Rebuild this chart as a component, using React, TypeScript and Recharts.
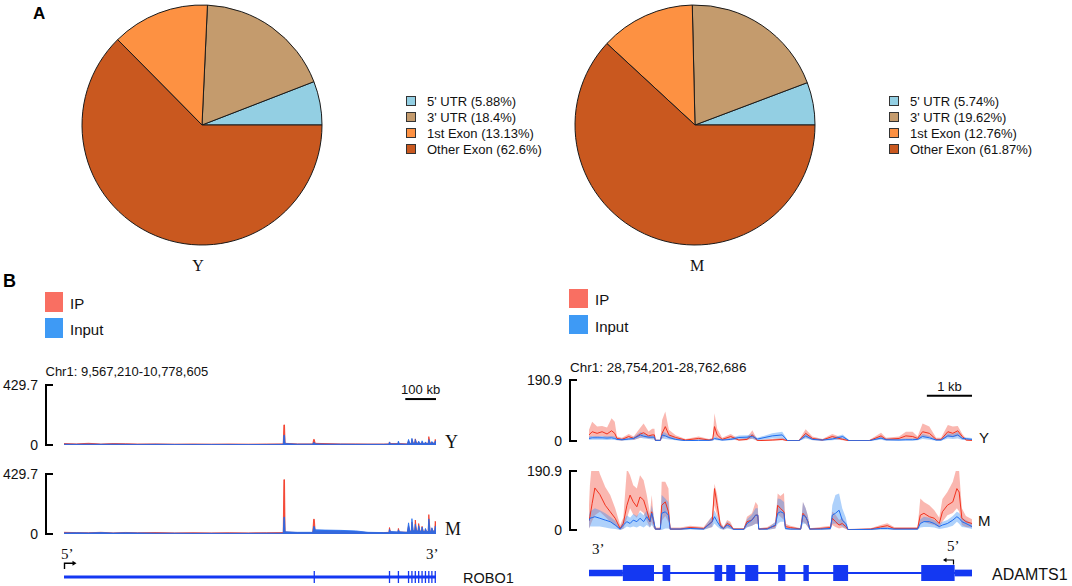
import React from "react";
import {
  Area,
  Cell,
  ComposedChart,
  Legend,
  Line,
  Pie,
  PieChart,
  ReferenceArea,
  ReferenceLine,
  XAxis,
  YAxis,
} from "recharts";

const SANS = "'Liberation Sans', Arial, sans-serif";
const SERIF = "'Liberation Serif', 'Times New Roman', serif";

// ---- Panel A: peak distribution over transcript regions ----
const regions = ["5' UTR", "3' UTR", "1st Exon", "Other Exon"];
const youngShare = [5.88, 18.4, 13.13, 62.6];
const middleShare = [5.74, 19.62, 12.76, 61.87];
const regionColors = ["#93cfe3", "#c49b6d", "#fd9142", "#c9581f"];

// ---- Panel B left: ROBO1 locus (kb from 9,567,210) ----
const roboSpanKb = 1211.4;
const roboKb = [
  0, 40, 80, 120, 160, 200, 240, 300, 360, 420,
  480, 540, 600, 660, 714, 716, 718, 720, 760, 810,
  813, 815, 818, 850, 900, 950, 990, 1040, 1058, 1060,
  1063, 1087, 1089, 1092, 1118, 1122, 1126, 1131, 1133, 1137,
  1142, 1144, 1148, 1153, 1155, 1159, 1164, 1166, 1170, 1175,
  1177, 1181, 1186, 1188, 1192, 1196, 1198, 1202, 1207, 1209,
  1211.4,
];
const roboYIp = [
  10, 8, 12, 7, 10, 9, 7, 8, 6, 7,
  6, 7, 6, 7, 8, 144, 144, 12, 8, 8,
  40, 40, 12, 10, 8, 8, 7, 7, 8, 22,
  10, 10, 20, 10, 8, 30, 12, 12, 40, 14,
  14, 44, 14, 14, 20, 12, 12, 22, 12, 12,
  18, 12, 12, 60, 14, 14, 20, 14, 14, 40,
  30,
];
const roboYInput = [
  6, 5, 6, 5, 6, 5, 4, 5, 4, 4,
  4, 4, 3, 4, 5, 70, 70, 10, 6, 6,
  18, 18, 8, 6, 6, 5, 5, 5, 6, 22,
  8, 8, 28, 8, 6, 40, 10, 10, 48, 12,
  12, 40, 12, 12, 28, 10, 10, 30, 10, 10,
  22, 10, 10, 40, 12, 12, 25, 12, 12, 30,
  20,
];
const roboMIp = [
  12, 10, 9, 12, 8, 11, 9, 10, 8, 9,
  8, 9, 8, 9, 10, 389, 389, 14, 10, 10,
  106, 106, 20, 22, 20, 16, 10, 10, 12, 46,
  14, 12, 40, 14, 12, 60, 20, 20, 85, 22,
  22, 100, 22, 22, 75, 20, 20, 55, 18, 18,
  35, 16, 16, 139, 20, 20, 40, 20, 20, 91,
  60,
];
const roboMInput = [
  8, 9, 8, 10, 7, 9, 8, 6, 6, 5,
  5, 5, 5, 6, 6, 120, 120, 16, 12, 12,
  53, 53, 30, 28, 26, 22, 12, 10, 10, 33,
  18, 15, 30, 16, 12, 80, 20, 20, 110, 24,
  24, 70, 22, 22, 60, 20, 20, 50, 18, 18,
  40, 18, 18, 108, 20, 20, 45, 20, 20, 55,
  40,
];
const roboExonKb = [815, 1060, 1089, 1122, 1133, 1144, 1155, 1166, 1177, 1188, 1198, 1209];

// ---- Panel B right: ADAMTS1 locus (kb from 28,754,201) ----
const adamSpanKb = 8.485;
const adamYKb = [
  0, 0.07, 0.18, 0.29, 0.4, 0.5, 0.57, 0.62, 0.73, 0.88,
  0.99, 1.14, 1.21, 1.32, 1.4, 1.45, 1.47, 1.58, 1.62, 1.69,
  1.77, 1.92, 2.14, 2.43, 2.66, 2.74, 2.78, 2.84, 2.95, 3.14,
  3.32, 3.5, 3.62, 3.73, 4.06, 4.28, 4.4, 4.65, 4.8, 4.95,
  5.17, 5.39, 5.62, 5.76, 6.21, 6.47, 6.58, 6.87, 7.02, 7.17,
  7.28, 7.39, 7.54, 7.69, 7.8, 7.95, 8.06, 8.17, 8.27, 8.36,
  8.485,
];
const adamYIp = [
  19, 29, 24, 29, 22, 32, 24, 8, 5, 14,
  8, 22, 26, 16, 19, 19, 2, 2, 24, 45,
  19, 11, 3, 8, 3, 5, 45, 19, 5, 14,
  3, 5, 19, 1, 3, 5, 1, 1, 24, 8,
  3, 14, 5, 1, 1, 16, 5, 8, 16, 14,
  8, 29, 24, 5, 5, 29, 24, 32, 14, 3,
  2,
];
const adamYIpLo = [
  8, 14, 12, 15, 10, 12, 10, 3, 1, 6,
  3, 10, 12, 8, 8, 8, 0, 0, 8, 15,
  8, 4, 1, 3, 1, 2, 15, 6, 2, 6,
  1, 2, 8, 0, 1, 2, 0, 0, 12, 3,
  1, 6, 2, 0, 0, 8, 2, 3, 6, 6,
  3, 14, 12, 2, 2, 14, 12, 16, 6, 1,
  0,
];
const adamYIpHi = [
  35, 60, 45, 47, 42, 71, 60, 14, 10, 22,
  14, 42, 55, 30, 38, 38, 4, 4, 66, 92,
  35, 18, 6, 14, 6, 10, 87, 38, 10, 22,
  6, 10, 34, 3, 6, 10, 3, 3, 37, 14,
  6, 22, 10, 3, 3, 26, 10, 14, 29, 29,
  14, 55, 45, 10, 10, 50, 45, 47, 22, 6,
  4,
];
const adamYInput = [
  8, 10, 10, 10, 9, 10, 8, 5, 4, 6,
  8, 19, 15, 12, 12, 12, 2, 2, 19, 16,
  11, 5, 1, 2, 2, 4, 8, 6, 3, 5,
  11, 12, 14, 6, 16, 19, 1, 1, 16, 5,
  3, 6, 14, 1, 1, 9, 4, 3, 4, 4,
  5, 14, 10, 3, 3, 16, 14, 19, 8, 7,
  5,
];
const adamYInputLo = [
  3, 4, 4, 4, 3, 4, 3, 2, 1, 2,
  3, 10, 8, 6, 5, 5, 0, 0, 8, 6,
  5, 2, 0, 0, 0, 1, 3, 2, 1, 2,
  5, 6, 6, 2, 8, 8, 0, 0, 8, 2,
  1, 2, 6, 0, 0, 4, 1, 1, 1, 1,
  2, 6, 4, 1, 1, 8, 6, 8, 3, 3,
  2,
];
const adamYInputHi = [
  14, 16, 16, 16, 15, 16, 14, 9, 8, 10,
  13, 28, 24, 18, 18, 18, 4, 4, 30, 26,
  18, 9, 3, 4, 4, 7, 14, 10, 6, 9,
  17, 18, 22, 10, 24, 29, 3, 3, 24, 9,
  6, 10, 20, 3, 3, 14, 8, 6, 8, 8,
  9, 22, 16, 6, 6, 24, 22, 28, 13, 11,
  9,
];

const adamMKb = [
  0, 0.02, 0.07, 0.13, 0.24, 0.36, 0.47, 0.58, 0.69, 0.76,
  0.84, 0.91, 0.98, 1.06, 1.13, 1.21, 1.28, 1.35, 1.39, 1.43,
  1.47, 1.58, 1.61, 1.69, 1.76, 1.8, 2.02, 2.24, 2.54, 2.73,
  2.78, 2.84, 2.91, 2.98, 3.06, 3.13, 3.2, 3.43, 3.5, 3.61,
  3.69, 3.74, 3.76, 3.95, 4.13, 4.18, 4.24, 4.32, 4.35, 4.46,
  4.69, 4.74, 4.8, 4.85, 4.89, 5.13, 5.35, 5.39, 5.46, 5.54,
  5.61, 5.69, 5.74, 6.24, 6.46, 6.61, 6.76, 7.28, 7.34, 7.42,
  7.54, 7.65, 7.76, 7.83, 7.94, 8.06, 8.15, 8.2, 8.26, 8.35,
  8.485,
];
const adamMIp = [
  30, 43, 86, 136, 115, 80, 59, 38, 5, 21,
  80, 113, 91, 75, 107, 97, 64, 27, 59, 27,
  3, 3, 80, 91, 59, 3, 3, 8, 5, 27,
  134, 80, 16, 5, 21, 16, 3, 3, 27, 32,
  48, 48, 3, 5, 14, 80, 70, 59, 11, 8,
  3, 54, 43, 27, 3, 5, 8, 38, 27, 16,
  21, 11, 1, 3, 10, 14, 5, 5, 48, 54,
  43, 38, 21, 59, 80, 91, 134, 123, 38, 27,
  21,
];
const adamMIpLo = [
  5, 11, 30, 48, 59, 43, 27, 14, 0, 5,
  38, 70, 50, 40, 64, 55, 30, 8, 27, 8,
  0, 0, 30, 45, 27, 0, 0, 3, 2, 10,
  80, 45, 5, 1, 8, 5, 0, 0, 10, 14,
  20, 20, 0, 1, 5, 50, 43, 32, 3, 2,
  0, 27, 20, 10, 0, 1, 2, 16, 10, 5,
  8, 3, 0, 0, 3, 5, 1, 1, 21, 27,
  20, 16, 8, 27, 48, 55, 70, 60, 16, 10,
  8,
];
const adamMIpHi = [
  80, 145, 225, 231, 182, 139, 113, 70, 16, 40,
  198, 177, 145, 134, 177, 161, 113, 54, 113, 45,
  8, 8, 156, 156, 134, 8, 8, 14, 10, 45,
  150, 113, 27, 10, 32, 27, 6, 6, 43, 54,
  91, 80, 6, 10, 24, 118, 110, 120, 20, 14,
  6, 91, 70, 45, 6, 10, 14, 60, 50, 32,
  40, 20, 3, 6, 16, 22, 10, 10, 102, 91,
  80, 64, 40, 100, 123, 156, 204, 190, 70, 45,
  35,
];
const adamMInput = [
  30, 38, 40, 43, 38, 32, 27, 16, 3, 16,
  27, 21, 32, 27, 38, 27, 43, 27, 54, 32,
  3, 3, 54, 59, 48, 3, 3, 5, 3, 27,
  43, 27, 11, 5, 16, 11, 2, 2, 21, 32,
  48, 48, 3, 3, 16, 54, 59, 54, 5, 3,
  3, 48, 43, 27, 3, 3, 5, 48, 54, 64,
  32, 21, 1, 2, 5, 5, 3, 3, 21, 27,
  27, 21, 11, 16, 21, 32, 43, 38, 27, 21,
  11,
];
const adamMInputLo = [
  5, 11, 11, 11, 11, 8, 5, 3, 0, 3,
  11, 8, 11, 8, 14, 8, 16, 8, 16, 8,
  0, 0, 0, 5, 5, 0, 0, 2, 0, 10,
  21, 11, 3, 1, 5, 3, 0, 0, 8, 14,
  20, 20, 0, 0, 5, 20, 27, 27, 1, 0,
  0, 20, 20, 10, 0, 0, 1, 20, 21, 16,
  11, 5, 0, 0, 1, 1, 0, 0, 8, 10,
  10, 8, 3, 5, 8, 14, 27, 20, 10, 8,
  3,
];
const adamMInputHi = [
  50, 59, 65, 70, 64, 54, 43, 30, 8, 30,
  48, 40, 52, 45, 58, 48, 64, 45, 80, 50,
  6, 6, 113, 102, 90, 6, 6, 9, 6, 45,
  64, 43, 20, 10, 27, 20, 5, 5, 35, 50,
  70, 70, 6, 6, 27, 102, 100, 91, 10, 6,
  6, 91, 70, 45, 6, 6, 10, 80, 113, 118,
  70, 40, 3, 4, 9, 9, 6, 6, 35, 43,
  40, 32, 20, 27, 32, 45, 59, 55, 40, 32,
  20,
];
// exon and UTR blocks of ADAMTS1 (kb)
const adamExonStart = [0.75, 1.63, 2.78, 3.04, 3.46, 4.19, 4.75, 5.41, 7.36];
const adamExonEnd = [1.44, 1.8, 2.95, 3.24, 3.75, 4.35, 4.87, 5.74, 8.1];
const adamUtrStart = [0, 8.1];
const adamUtrEnd = [0.75, 8.485];

const IP_LINE = "#f2331f";
const IP_FILL = "#f4604f";
const INPUT_LINE = "#1f6cf0";
const INPUT_FILL = "#3f92f5";
const GENE_BLUE = "#1438f2";

function makePieLegend(shares: number[]) {
  return function PieLegend() {
    return (
      <div>
        {regions.map((r, i) => (
          <div key={r} style={{ display: "flex", alignItems: "center", height: 16 }}>
            <span
              style={{
                width: 10,
                height: 10,
                boxSizing: "border-box",
                border: "1px solid #333",
                background: regionColors[i],
                marginRight: 11,
              }}
            />
            <span style={{ fontSize: 13, fontFamily: SANS, color: "#111", whiteSpace: "nowrap" }}>
              {`${r} (${shares[i]}%)`}
            </span>
          </div>
        ))}
      </div>
    );
  };
}

function RegionPie({ shares, left, legendLeft }: { shares: number[]; left: number; legendLeft: number }) {
  const data = regions.map((r, i) => ({ name: r, value: shares[i] }));
  return (
    <div style={{ position: "absolute", left, top: 0 }}>
      <PieChart width={480} height={252} margin={{ top: 0, right: 0, bottom: 0, left: 0 }}>
        <Pie
          data={data}
          dataKey="value"
          nameKey="name"
          cx={125}
          cy={125}
          outerRadius={120}
          startAngle={0}
          endAngle={360}
          stroke="#1a1a1a"
          strokeWidth={1}
          isAnimationActive={false}
        >
          {data.map((_, i) => (
            <Cell key={i} fill={regionColors[i]} />
          ))}
        </Pie>
        <Legend
          layout="vertical"
          align="center"
          verticalAlign="middle"
          content={makePieLegend(shares)}
          wrapperStyle={{ position: "absolute", left: legendLeft, top: 93, width: "auto" }}
        />
      </PieChart>
    </div>
  );
}

function BracketTick(props: any) {
  const { x, y, payload } = props;
  return (
    <g>
      <line x1={x + 7} x2={x + 15} y1={y} y2={y} stroke="#000" strokeWidth={2} />
      <text x={x} y={y} dy="0.36em" textAnchor="end" fontSize={14} fontFamily={SANS} fill="#111">
        {payload.value}
      </text>
    </g>
  );
}

type TrackProps = {
  rows: any[];
  xMax: number;
  yMax: number;
  left: number;
  top: number;
  axisWidth: number;
  width: number;
  plotHeight: number;
  padLeft: number;
  banded: boolean;
  rightRoom?: number;
  scaleBar?: { from: number; to: number; y: number; label: string };
};

function SignalTrack({
  rows, xMax, yMax, left, top, axisWidth, width, plotHeight, padLeft, banded, rightRoom = 0, scaleBar,
}: TrackProps) {
  return (
    <div style={{ position: "absolute", left, top }}>
      <ComposedChart
        width={width + rightRoom}
        height={plotHeight + 20}
        data={rows}
        margin={{ top: 10, right: rightRoom, bottom: 10, left: 0 }}
      >
        <XAxis
          dataKey="kb"
          type="number"
          domain={[0, xMax]}
          hide
          padding={{ left: padLeft, right: 0 }}
          allowDataOverflow
        />
        <YAxis
          type="number"
          domain={[0, yMax]}
          ticks={[0, yMax]}
          interval={0}
          width={axisWidth}
          allowDataOverflow
          axisLine={{ stroke: "#000", strokeWidth: 2 }}
          tickLine={false}
          tickSize={0}
          tickMargin={8}
          tick={<BracketTick />}
        />
        {banded ? (
          <>
            <Area dataKey="ipBand" type="linear" stroke="none" fill={IP_FILL} fillOpacity={0.45} isAnimationActive={false} dot={false} activeDot={false} />
            <Area dataKey="inputBand" type="linear" stroke="none" fill={INPUT_FILL} fillOpacity={0.42} isAnimationActive={false} dot={false} activeDot={false} />
            <Line dataKey="ip" type="linear" stroke={IP_LINE} strokeWidth={1} dot={false} activeDot={false} isAnimationActive={false} />
            <Line dataKey="input" type="linear" stroke={INPUT_LINE} strokeWidth={1} dot={false} activeDot={false} isAnimationActive={false} />
          </>
        ) : (
          <>
            <Area dataKey="ip" type="linear" stroke={IP_LINE} strokeWidth={0.8} fill={IP_LINE} fillOpacity={0.9} isAnimationActive={false} dot={false} activeDot={false} />
            <Area dataKey="input" type="linear" stroke={INPUT_LINE} strokeWidth={0.8} fill={INPUT_LINE} fillOpacity={0.9} isAnimationActive={false} dot={false} activeDot={false} />
          </>
        )}
        {scaleBar && (
          <ReferenceLine
            segment={[
              { x: scaleBar.from, y: scaleBar.y },
              { x: scaleBar.to, y: scaleBar.y },
            ]}
            stroke="#000"
            strokeWidth={2}
            label={{ value: scaleBar.label, position: "top", offset: 5, fill: "#111", fontSize: 13, fontFamily: SANS }}
          />
        )}
      </ComposedChart>
    </div>
  );
}

const roboRows = (ip: number[], input: number[]) => roboKb.map((kb, i) => ({ kb, ip: ip[i], input: input[i] }));

const adamRows = (
  kbs: number[], ip: number[], ipLo: number[], ipHi: number[], input: number[], inLo: number[], inHi: number[]
) =>
  kbs.map((kb, i) => ({
    kb,
    ip: ip[i],
    input: input[i],
    ipBand: [ipLo[i], ipHi[i]],
    inputBand: [inLo[i], inHi[i]],
  }));

function Annotations() {
  const t = { fontFamily: SANS, fill: "#111", dominantBaseline: "central" as const };
  const s = { fontFamily: SERIF, fill: "#111", dominantBaseline: "central" as const };
  return (
    <svg width={1072} height={586} style={{ position: "absolute", left: 0, top: 0, pointerEvents: "none" }}>
      <text x={33} y={19} fontSize={17} fontWeight="bold" fontFamily={SANS} fill="#000">A</text>
      <text x={3} y={287} fontSize={18} fontWeight="bold" fontFamily={SANS} fill="#000">B</text>
      <text x={198} y={265} fontSize={16} textAnchor="middle" {...s}>Y</text>
      <text x={697} y={265} fontSize={16} textAnchor="middle" {...s}>M</text>

      <rect x={45} y={292} width={18} height={20} fill="#f96f62" />
      <rect x={45} y={318} width={18} height={20} fill="#3e9af5" />
      <text x={70} y={303} fontSize={15} {...t}>IP</text>
      <text x={70} y={329} fontSize={15} {...t}>Input</text>
      <rect x={569} y={289} width={19} height={19} fill="#f96f62" />
      <rect x={569} y={315} width={19} height={19} fill="#3e9af5" />
      <text x={595} y={299} fontSize={15} {...t}>IP</text>
      <text x={595} y={326} fontSize={15} {...t}>Input</text>

      <text x={45.5} y={371} fontSize={13} {...t}>Chr1: 9,567,210-10,778,605</text>
      <text x={570} y={367.5} fontSize={13.5} {...t}>Chr1: 28,754,201-28,762,686</text>

      <text x={445} y={442} fontSize={18} {...s}>Y</text>
      <text x={445} y={529} fontSize={18} {...s}>M</text>
      <text x={979} y={437} fontSize={15} {...t}>Y</text>
      <text x={978} y={520.5} fontSize={15} {...t}>M</text>

      <text x={61} y={554} fontSize={15} {...s}>5’</text>
      <text x={426} y={554} fontSize={15} {...s}>3’</text>
      <text x={592} y={549} fontSize={15} {...s}>3’</text>
      <text x={947} y={546} fontSize={15} {...s}>5’</text>

      <path d="M64.5 569 V563.3 H73" fill="none" stroke="#000" strokeWidth={1.4} />
      <path d="M72.5 560.8 L76.5 563.3 L72.5 565.8 Z" fill="#000" />
      <path d="M953.5 564.5 V560 H946" fill="none" stroke="#000" strokeWidth={1.2} />
      <path d="M946.5 557.8 L943 560 L946.5 562.2 Z" fill="#000" />

      <text x={463} y={578} fontSize={14.5} {...t}>ROBO1</text>
      <text x={992} y={574} fontSize={16} {...t}>ADAMTS1</text>
    </svg>
  );
}

// gene body spans the whole window; drawn as a line along y = 0
const roboBody = [
  { kb: 0, y: 0 },
  { kb: roboSpanKb, y: 0 },
];
const adamBody = [
  { kb: 0, y: 0 },
  { kb: adamSpanKb, y: 0 },
];

function RoboGene() {
  return (
    <div style={{ position: "absolute", left: 64, top: 571 }}>
      <ComposedChart width={372} height={12} data={roboBody} margin={{ top: 0, right: 0, bottom: 0, left: 0 }}>
        <XAxis dataKey="kb" type="number" domain={[0, roboSpanKb]} hide />
        <YAxis type="number" domain={[-1, 1]} hide allowDataOverflow />
        <Line dataKey="y" stroke={GENE_BLUE} strokeWidth={3} dot={false} activeDot={false} isAnimationActive={false} />
        {roboExonKb.map((kb) => (
          <ReferenceLine key={kb} x={kb} stroke={GENE_BLUE} strokeWidth={1.3} />
        ))}
      </ComposedChart>
    </div>
  );
}

function AdamGene() {
  return (
    <div style={{ position: "absolute", left: 589, top: 565 }}>
      <ComposedChart width={383} height={16} data={adamBody} margin={{ top: 0, right: 0, bottom: 0, left: 0 }}>
        <XAxis dataKey="kb" type="number" domain={[0, adamSpanKb]} hide />
        <YAxis type="number" domain={[-1, 1]} hide allowDataOverflow />
        <Line dataKey="y" stroke={GENE_BLUE} strokeWidth={2} dot={false} activeDot={false} isAnimationActive={false} />
        {adamUtrStart.map((x1, i) => (
          <ReferenceArea key={`u${i}`} x1={x1} x2={adamUtrEnd[i]} y1={-0.42} y2={0.42} fill={GENE_BLUE} fillOpacity={1} stroke="none" />
        ))}
        {adamExonStart.map((x1, i) => (
          <ReferenceArea key={`e${i}`} x1={x1} x2={adamExonEnd[i]} y1={-1} y2={1} fill={GENE_BLUE} fillOpacity={1} stroke="none" />
        ))}
      </ComposedChart>
    </div>
  );
}

export default function App() {
  return (
    <div style={{ position: "absolute", left: 0, top: 0, width: 1072, height: 586, background: "#fff", overflow: "hidden" }}>
      <Annotations />
      <RegionPie shares={youngShare} left={77} legendLeft={329} />
      <RegionPie shares={middleShare} left={570} legendLeft={319} />

      <SignalTrack
        rows={roboRows(roboYIp, roboYInput)}
        xMax={roboSpanKb}
        yMax={429.7}
        left={0}
        top={375}
        axisWidth={46}
        width={436}
        plotHeight={60}
        padLeft={18}
        banded={false}
        rightRoom={20}
        scaleBar={{ from: roboSpanKb - 100, to: roboSpanKb, y: 329, label: "100 kb" }}
      />
      <SignalTrack
        rows={roboRows(roboMIp, roboMInput)}
        xMax={roboSpanKb}
        yMax={429.7}
        left={0}
        top={464}
        axisWidth={46}
        width={436}
        plotHeight={60}
        padLeft={18}
        banded={false}
      />
      <SignalTrack
        rows={adamRows(adamYKb, adamYIp, adamYIpLo, adamYIpHi, adamYInput, adamYInputLo, adamYInputHi)}
        xMax={adamSpanKb}
        yMax={190.9}
        left={515}
        top={370}
        axisWidth={55}
        width={457}
        plotHeight={61}
        padLeft={19}
        banded
        scaleBar={{ from: adamSpanKb - 1, to: adamSpanKb, y: 141.8, label: "1 kb" }}
      />
      <SignalTrack
        rows={adamRows(adamMKb, adamMIp, adamMIpLo, adamMIpHi, adamMInput, adamMInputLo, adamMInputHi)}
        xMax={adamSpanKb}
        yMax={190.9}
        left={515}
        top={461}
        axisWidth={55}
        width={457}
        plotHeight={59}
        padLeft={19}
        banded
      />

      <RoboGene />
      <AdamGene />
    </div>
  );
}
